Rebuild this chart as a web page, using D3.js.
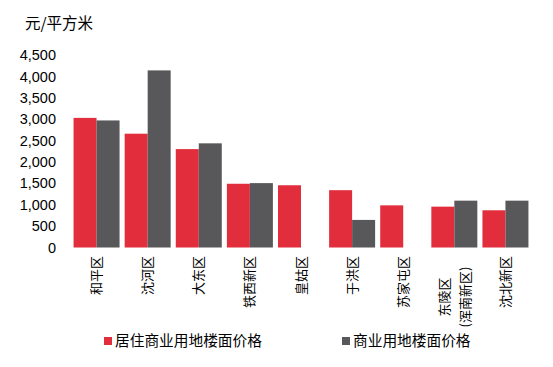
<!DOCTYPE html>
<meta charset="utf-8">
<head>
<style>
  body { margin: 0; background: #fff; }
  text { font-family: "Liberation Sans", Arial, "Noto Sans CJK SC", sans-serif; fill: #000; }
  .cjk { font-family: "Noto Sans CJK SC", sans-serif; }
</style>
</head>
<body>
<div class="chart"></div>
<script src="https://d3js.org/d3.v7.min.js" charset="utf-8"></script>
<script>
const districts = ['和平区', '沈河区', '大东区', '铁西新区', '皇姑区', '于洪区', '苏家屯区', '东陵区\n(浑南新区)', '沈北新区'];
const residential = [3030, 2660, 2300, 1490, 1455, 1340, 985, 955, 870];
const commercial = [2970, 4140, 2435, 1505, null, 645, null, 1095, 1095];
const yTicks = [0, 500, 1000, 1500, 2000, 2500, 3000, 3500, 4000, 4500];
const seriesNames = ['居住商业用地楼面价格', '商业用地楼面价格'];
const colors = ['#e12d3c', '#58585a'];

const W = 553, H = 367;
const plot = { left: 71, right: 531, top: 55, bottom: 247.5 };

const svg = d3.select('.chart').append('svg')
  .attr('width', W)
  .attr('height', H);

const x = d3.scaleBand()
  .domain(districts)
  .range([plot.left, plot.right])
  .paddingInner(0.1)
  .paddingOuter(0.05);

const x1 = d3.scaleBand()
  .domain([0, 1])
  .range([0, x.bandwidth()]);

const y = d3.scaleLinear()
  .domain([0, 4500])
  .range([plot.bottom, plot.top]);

// unit title
svg.append('text')
  .attr('class', 'cjk')
  .attr('x', 25)
  .attr('y', 29)
  .style('font-size', '15.5px')
  .text('元/平方米');

// y axis, labels only
const yAxis = d3.axisLeft(y)
  .tickValues(yTicks)
  .tickFormat(d3.format(','))
  .tickSize(0)
  .tickPadding(0);

svg.append('g')
  .attr('transform', 'translate(56,0)')
  .call(yAxis)
  .call(g => g.select('.domain').remove())
  .call(g => g.selectAll('text')
    .style('font-family', '"Liberation Sans", Arial, sans-serif')
    .style('font-size', '14.5px')
    .attr('fill', '#000'));

// bars
const series = [residential, commercial];
series.forEach((vals, si) => {
  svg.append('g').selectAll('rect')
    .data(vals.map((v, i) => ({ cat: districts[i], v })).filter(d => d.v != null))
    .enter()
    .append('rect')
    .attr('x', d => x(d.cat) + x1(si))
    .attr('width', x1.bandwidth())
    .attr('y', d => y(d.v))
    .attr('height', d => y(0) - y(d.v))
    .attr('fill', colors[si]);
});

// rotated category labels
const labels = svg.append('g').selectAll('text')
  .data(districts)
  .enter()
  .append('text')
  .attr('class', 'cjk')
  .attr('transform', d => `translate(${x(d) + x.bandwidth() / 2},256) rotate(-90)`)
  .attr('text-anchor', 'end')
  .style('font-size', '13px');

labels.each(function(d) {
  const lines = d.split('\n');
  const t = d3.select(this);
  lines.forEach((line, i) => {
    t.append('tspan')
      .attr('x', 0)
      .attr('dy', i === 0 ? '0.35em' : '1.6em')
      .text(line);
  });
});
// two-line label: lines centred on each other
labels.filter(d => d.includes('\n'))
  .attr('text-anchor', 'middle')
  .attr('transform', d => `translate(${x(d) + x.bandwidth() / 2 - 10},297) rotate(-90)`);

// legend
const legendX = [104, 342];
const legend = svg.append('g').selectAll('g')
  .data(seriesNames)
  .enter()
  .append('g')
  .attr('transform', (d, i) => `translate(${legendX[i]},341)`);

legend.append('rect')
  .attr('x', 0)
  .attr('y', -4)
  .attr('width', 8)
  .attr('height', 8)
  .attr('fill', (d, i) => colors[i]);

legend.append('text')
  .attr('class', 'cjk')
  .attr('x', 11)
  .attr('dy', '0.36em')
  .style('font-size', '14.7px')
  .text(d => d);
</script>
</body>
